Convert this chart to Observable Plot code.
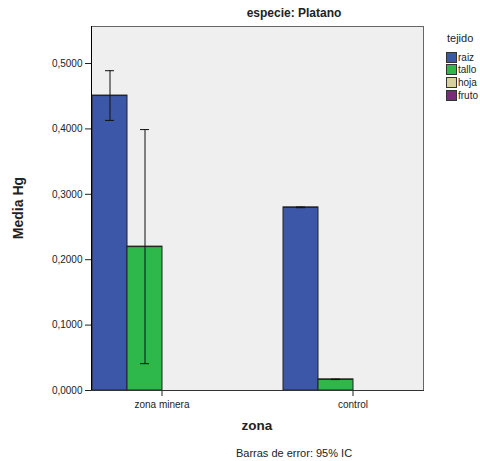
<!DOCTYPE html>
<html>
<head>
<meta charset="utf-8">
<script src="https://cdn.jsdelivr.net/npm/d3@7"></script>
<script src="https://cdn.jsdelivr.net/npm/@observablehq/plot@0.6"></script>
<style>
  html, body { margin: 0; padding: 0; background: #fff; }
  #wrap { position: relative; width: 480px; height: 461px; font-family: "Liberation Sans", Arial, sans-serif; color: #222; }
  #wrap svg { position: absolute; left: 0; top: 0; }
  .title { position: absolute; top: 6px; left: 194px; width: 200px; text-align: center; font-size: 12px; font-weight: bold; }
  .caption { position: absolute; top: 447px; left: 194px; width: 200px; text-align: center; font-size: 11px; }
  .xlabel { position: absolute; top: 418px; left: 207px; width: 100px; text-align: center; font-size: 13.5px; font-weight: bold; }
  .ylabel { position: absolute; left: -32px; top: 200px; width: 100px; text-align: center; font-size: 14px; font-weight: bold; transform: rotate(-90deg); }
  .legend { position: absolute; left: 446px; top: 32px; font-size: 10px; }
  .legend .head { font-size: 11px; margin-bottom: 7px; margin-left: 1px; }
  .legend .item { display: flex; align-items: center; height: 12.6px; }
  .legend .sw { width: 9px; height: 9px; border: 1px solid #333; margin-right: 1px; }
</style>
</head>
<body>
<div id="wrap"></div>
<script>
// Mercury means by zone and tissue, with 95% confidence intervals
const zonas = ["zona minera", "control"];
const tejidos = ["raiz", "tallo", "hoja", "fruto"];
const colores = ["#3d57a8", "#2eb84b", "#d8d19c", "#7a2b7c"];
const mediaMinera = [0.451, 0.220, 0, 0];
const mediaControl = [0.280, 0.017, 0, 0];
const icInfMinera = [0.413, 0.041, null, null];
const icSupMinera = [0.489, 0.399, null, null];
const icInfControl = [0.2795, 0.0167, null, null];
const icSupControl = [0.2805, 0.0173, null, null];
const yTicks = [0, 0.1, 0.2, 0.3, 0.4, 0.5];

const filas = [];
zonas.forEach((zona, z) => {
  const media = z === 0 ? mediaMinera : mediaControl;
  const inf = z === 0 ? icInfMinera : icInfControl;
  const sup = z === 0 ? icSupMinera : icSupControl;
  tejidos.forEach((tejido, t) => {
    filas.push({zona, tejido, media: media[t], inf: inf[t], sup: sup[t]});
  });
});
const conIC = filas.filter(d => d.inf != null);

const fmt = d => d.toFixed(4).replace(".", ",");

const chart = Plot.plot({
  width: 480,
  height: 461,
  marginLeft: 72,
  marginRight: 38,
  marginTop: 26,
  marginBottom: 71,
  style: {fontFamily: "'Liberation Sans', Arial, sans-serif", fontSize: "10px", color: "#222", background: "transparent"},
  fx: {domain: zonas, paddingInner: 0.26, paddingOuter: 0.096, label: null, tickSize: 6, tickPadding: 4},
  x: {domain: tejidos, padding: 0, axis: null},
  y: {domain: [0, 0.5566], ticks: yTicks, tickFormat: fmt, label: null, tickSize: 6, tickPadding: 3},
  color: {domain: tejidos, range: colores},
  marks: [
    Plot.frame({facet: "super", fill: "#efefef", stroke: "#666"}),
    Plot.barY(filas, {fx: "zona", x: "tejido", y: "media", fill: "tejido", stroke: "#222", strokeWidth: 1}),
    Plot.tickY(filas, {fx: "zona", x: "tejido", y: "media", stroke: "#222", strokeWidth: 1}),
    Plot.ruleX(conIC, {fx: "zona", x: "tejido", y1: "inf", y2: "sup", stroke: "#111", strokeWidth: 1}),
    Plot.tickY(conIC, {fx: "zona", x: "tejido", y: "inf", stroke: "#111", insetLeft: 13, insetRight: 13}),
    Plot.tickY(conIC, {fx: "zona", x: "tejido", y: "sup", stroke: "#111", insetLeft: 13, insetRight: 13}),
    Plot.frame({facet: "super", anchor: "left", stroke: "#000"}),
    Plot.frame({facet: "super", anchor: "bottom", stroke: "#333"})
  ]
});

const wrap = document.getElementById("wrap");
wrap.appendChild(chart);

function addText(cls, text) {
  const el = document.createElement("div");
  el.className = cls;
  el.textContent = text;
  wrap.appendChild(el);
}
addText("title", "especie: Platano");
addText("xlabel", "zona");
addText("ylabel", "Media Hg");
addText("caption", "Barras de error: 95% IC");

const legend = document.createElement("div");
legend.className = "legend";
const head = document.createElement("div");
head.className = "head";
head.textContent = "tejido";
legend.appendChild(head);
tejidos.forEach((t, i) => {
  const item = document.createElement("div");
  item.className = "item";
  const sw = document.createElement("span");
  sw.className = "sw";
  sw.style.background = colores[i];
  item.appendChild(sw);
  item.appendChild(document.createTextNode(t));
  legend.appendChild(item);
});
wrap.appendChild(legend);
</script>
</body>
</html>
